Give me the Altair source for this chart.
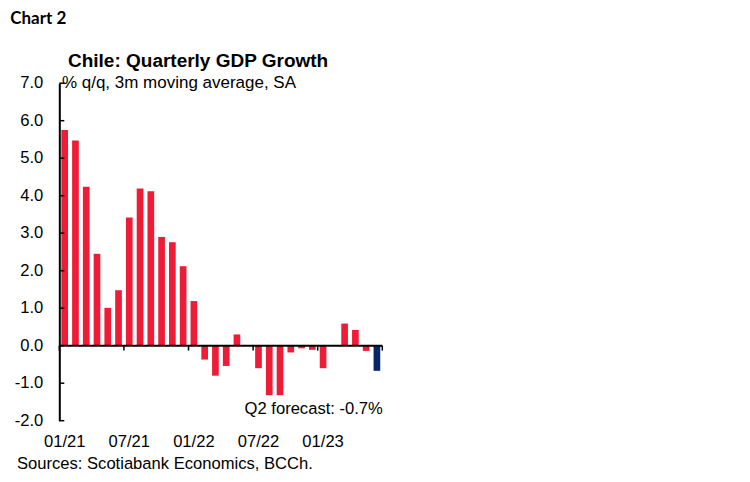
import pandas as pd
import altair as alt

# --- data ---
months = list(pd.date_range("2021-01-01", "2023-06-01", freq="MS").strftime("%m/%y"))
growth = [5.75, 5.47, 4.24, 2.45, 1.01, 1.48, 3.42, 4.19, 4.12, 2.90,
          2.76, 2.12, 1.19, -0.37, -0.80, -0.54, 0.30, 0.00, -0.60, -1.32,
          -1.32, -0.18, -0.07, -0.11, -0.60, 0.00, 0.59, 0.42, -0.14, -0.67]
kind = ["actual"] * 29 + ["forecast"]
label_months = ["01/21", "07/21", "01/22", "07/22", "01/23"]
y_ticks = [-2, -1, 0, 1, 2, 3, 4, 5, 6, 7]
y_tick_labels = ["-2.0", "-1.0", "0.0", "1.0", "2.0", "3.0", "4.0", "5.0", "6.0", "7.0"]
x_tick_pos = [0, 6, 12, 18, 24, 30]  # month boundaries, every 6 months

df = pd.DataFrame({"month": months, "growth": growth, "kind": kind})
ydf = pd.DataFrame({"growth": y_ticks, "lab": y_tick_labels})

FONT = "Liberation Sans"
RED = "#EE1C36"
NAVY = "#0A2468"

W, H = 323, 337.5

y_scale = alt.Scale(domain=[-2, 7], nice=False, zero=False)
# axis keeps only its line; the tick labels are drawn as a text layer
y_axis = alt.Axis(values=y_ticks, grid=False, ticks=False, tickSize=0, labels=False,
                  domainColor="black", domainWidth=2, title=None)

bars = alt.Chart(df).mark_bar().encode(
    x=alt.X("month:O", sort=None,
            scale=alt.Scale(paddingInner=0.38, paddingOuter=0.19),
            axis=alt.Axis(values=label_months, domain=False, ticks=False, tickSize=0,
                          labelAngle=0, labelPadding=13, labelFont=FONT,
                          labelFontSize=16.6, labelColor="black", title=None)),
    y=alt.Y("growth:Q", scale=y_scale, axis=y_axis),
    color=alt.Color("kind:N", scale=alt.Scale(domain=["actual", "forecast"], range=[RED, NAVY]),
                    legend=None),
)

zero_line = alt.Chart(pd.DataFrame({"growth": [0]})).mark_rule(color="black", strokeWidth=2).encode(
    y=alt.Y("growth:Q", scale=y_scale, axis=y_axis)
)

x_ticks = alt.Chart(pd.DataFrame({"pos": x_tick_pos})).mark_rule(color="black", strokeWidth=1.5).encode(
    x=alt.X("pos:Q", scale=alt.Scale(domain=[0, 30], nice=False), axis=None),
    y=alt.datum(0),
    y2=alt.datum(-0.13),
)

y_tick_marks = alt.Chart(ydf).mark_rule(color="black", strokeWidth=1.5).encode(
    y=alt.Y("growth:Q", scale=y_scale, axis=y_axis),
    x=alt.value(0),
    x2=alt.value(5),
)

y_labels = alt.Chart(ydf).mark_text(
    align="right", baseline="middle", font=FONT, fontSize=16.6, color="black"
).encode(
    y=alt.Y("growth:Q", scale=y_scale, axis=y_axis),
    x=alt.value(-16),
    text="lab:N",
)


def label(txt, x, y, size, align="left", weight="normal", font=FONT):
    return alt.Chart(pd.DataFrame({"t": [txt]})).mark_text(
        align=align, baseline="alphabetic", font=font, fontSize=size,
        fontWeight=weight, color="black"
    ).encode(x=alt.value(x), y=alt.value(y), text="t:N")


chart_no = label("Chart 2", -49.0, -58.7, 17, weight="bold", font="Lato")
title = label("Chile: Quarterly GDP Growth", 8.7, -16.5, 19, weight="bold")
subtitle = label("% q/q, 3m moving average, SA", 2.6, 5.0, 17)
forecast = label("Q2 forecast: -0.7%", 323.5, 330.5, 16.6, align="right")
sources = label("Sources: Scotiabank Economics, BCCh.", -42.3, 386.3, 16.6)

chart = alt.layer(
    bars, zero_line, x_ticks, y_tick_marks, y_labels,
    chart_no, title, subtitle, forecast, sources
).resolve_scale(x="independent").properties(
    width=W, height=H,
    autosize="none",
    padding={"left": 51.3, "top": 75.2, "right": 359, "bottom": 52},
).configure_view(stroke=None)

chart.save("out.html", embed_options={"renderer": "svg", "actions": False})
